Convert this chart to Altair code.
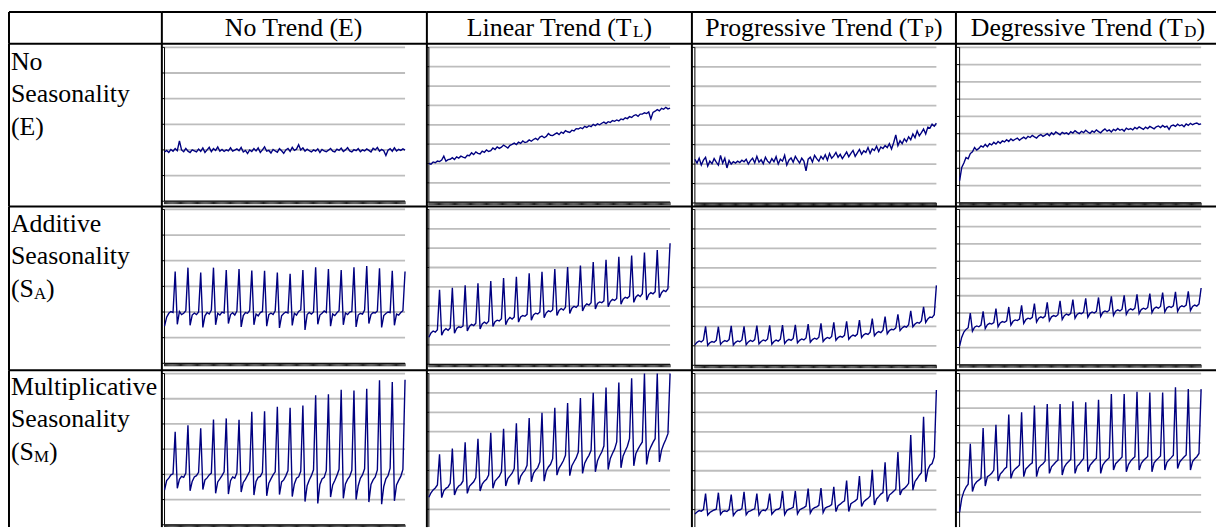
import altair as alt
import pandas as pd

FONT = "Liberation Serif"

# ---------------- text ----------------
COL_HEADERS = [("No Trend (E)", "", ""),
               ("Linear Trend (T", "L", ")"),
               ("Progressive Trend (T", "P", ")"),
               ("Degressive Trend (T", "D", ")")]
ROW_HEADERS = [(["No", "Seasonality"], "(E)", "", ""),
               (["Additive", "Seasonality"], "(S", "A", ")"),
               (["Multiplicative", "Seasonality"], "(S", "M", ")")]

# number of gridline intervals in each small chart
GRID_STEPS = [[6, 8, 8, 9], [6, 8, 8, 9], [6, 8, 8, 9]]

# ---------------- series (values in gridline units) ----------------
E_E = [1.92,1.98,1.90,2.02,1.95,2.05,1.97,2.35,2.00,1.93,2.06,1.95,1.90,2.00,1.96,1.92,2.03,1.94,2.08,1.90,
       2.00,2.10,1.93,2.05,1.98,2.12,1.95,2.02,1.94,2.00,1.96,2.08,1.95,1.99,2.04,1.97,2.10,1.92,1.98,1.86,
       2.00,1.94,2.05,1.96,2.08,1.90,2.00,2.12,1.95,1.98,1.88,2.02,1.96,1.91,2.05,1.97,1.87,2.00,2.06,1.94,
       2.10,1.98,2.03,2.20,2.00,2.08,1.95,2.03,1.97,1.92,2.00,1.95,2.04,1.90,2.02,1.96,1.93,1.99,2.06,1.95,
       1.92,2.03,1.98,2.07,1.94,2.00,2.09,1.96,1.92,2.01,1.97,2.05,1.93,2.00,1.96,2.04,1.98,1.92,2.06,2.00,
       2.10,1.95,2.02,1.97,1.78,1.99,2.05,1.95,2.08,1.96,2.02,1.98,2.04,1.99]
E_TL = [2.00,1.96,2.08,2.04,2.13,2.10,2.18,2.38,2.12,2.20,2.22,2.30,2.21,2.34,2.28,2.38,2.33,2.29,2.42,2.40,
        2.55,2.46,2.60,2.52,2.49,2.64,2.58,2.70,2.62,2.66,2.80,2.72,2.86,2.78,2.84,2.95,2.88,2.80,2.94,2.99,
        3.05,2.98,3.10,3.04,3.16,3.08,3.12,3.22,3.15,3.24,3.30,3.22,3.36,3.42,3.33,3.40,3.55,3.46,3.44,3.52,
        3.58,3.49,3.62,3.56,3.70,3.64,3.60,3.72,3.68,3.80,3.78,3.85,3.80,3.92,3.86,3.95,3.90,4.02,3.96,4.05,
        4.00,4.08,4.14,4.06,4.16,4.12,4.22,4.18,4.25,4.20,4.30,4.26,4.36,4.32,4.42,4.38,4.48,4.52,4.44,4.55,
        4.55,4.62,4.58,4.66,4.30,4.64,4.70,4.78,4.72,4.85,4.80,4.90,4.82,4.86]
E_TP = [2.25,2.05,2.30,1.95,2.20,2.35,1.90,2.15,2.02,2.28,2.10,1.95,2.45,2.05,2.30,1.80,2.18,2.00,2.12,2.05,
        2.15,2.08,2.20,2.12,2.25,2.00,2.18,2.30,2.06,2.40,2.10,2.22,2.02,2.35,2.15,2.05,2.28,2.12,2.38,2.00,
        2.25,2.15,2.45,1.95,2.20,2.32,2.10,2.40,2.22,2.05,2.30,2.15,1.65,2.25,2.35,2.10,2.45,2.28,2.15,2.40,
        2.25,2.48,2.20,2.55,2.30,2.42,2.60,2.35,2.50,2.28,2.45,2.62,2.38,2.55,2.70,2.40,2.58,2.75,2.50,2.68,
        2.60,2.85,2.55,2.78,2.70,2.92,2.65,2.88,2.80,2.95,2.85,3.05,2.78,3.10,3.50,2.95,3.20,3.05,3.30,3.15,
        3.40,3.25,3.55,3.35,3.70,3.45,3.62,3.80,3.55,3.90,3.85,4.05,3.95,4.10]
E_TD = [1.28,2.05,2.30,2.62,2.55,2.85,2.95,3.20,3.05,3.15,3.30,3.22,3.38,3.25,3.42,3.35,3.50,3.40,3.55,3.45,
        3.58,3.52,3.65,3.55,3.70,3.60,3.68,3.75,3.62,3.72,3.80,3.70,3.85,3.78,3.90,3.82,3.75,3.88,3.95,3.85,
        3.92,4.00,3.88,4.05,3.95,4.10,4.02,3.94,4.08,4.00,4.05,3.96,4.12,4.04,4.18,4.08,4.00,4.14,4.06,4.20,
        4.10,4.02,4.16,4.08,4.22,4.12,4.05,4.18,4.28,4.15,4.22,4.10,4.25,4.18,4.30,4.20,4.26,4.15,4.32,4.24,
        4.30,4.22,4.36,4.28,4.40,4.32,4.25,4.38,4.30,4.42,4.35,4.28,4.40,4.45,4.36,4.48,4.38,4.44,4.25,4.46,
        4.50,4.42,4.55,4.46,4.52,4.40,4.56,4.48,4.60,4.52,4.58,4.62,4.54,4.57]

SA_E = [1.45,1.80,1.95,2.02,1.98,3.58, 1.52,2.02,1.90,1.95,2.05,3.73, 1.48,1.88,1.96,1.90,2.00,3.54,
        1.40,1.85,1.98,1.92,2.08,3.73, 1.50,1.95,1.88,2.00,1.96,3.64, 1.55,1.90,1.97,1.88,2.04,3.68,
        1.42,1.86,1.98,1.95,2.06,3.62, 1.50,1.92,1.85,1.98,2.02,3.61, 1.45,1.90,1.96,1.90,2.05,3.54,
        1.38,1.85,1.94,2.00,1.96,3.49, 1.48,1.95,1.88,2.02,2.08,3.64, 1.30,1.90,1.98,1.92,2.00,3.74,
        1.52,1.88,1.95,2.04,1.98,3.68, 1.45,1.92,1.86,1.97,2.05,3.64, 1.50,1.96,1.90,2.00,2.02,3.74,
        1.42,1.88,1.95,1.92,2.08,3.79, 1.55,1.90,1.98,1.96,2.04,3.71, 1.40,1.86,1.94,2.00,1.98,3.61,
        1.48,1.92,1.88,1.98,2.05,3.58]
SA_TL = [1.40,1.62,1.72,1.66,1.78,3.85, 1.50,1.74,1.84,1.76,1.88,3.95, 1.60,1.85,1.94,1.90,1.98,4.08,
         1.72,1.96,2.06,2.00,2.12,4.18, 1.82,2.08,2.18,2.10,2.22,4.30, 1.95,2.20,2.28,2.24,2.36,4.45,
         2.05,2.30,2.42,2.34,2.45,4.52, 2.18,2.44,2.52,2.48,2.58,4.70, 2.28,2.55,2.64,2.60,2.70,4.78,
         2.40,2.66,2.76,2.72,2.82,4.92, 2.52,2.78,2.88,2.80,2.95,5.02, 2.62,2.90,3.00,2.94,3.05,5.10,
         2.75,3.00,3.12,3.06,3.18,5.28, 2.86,3.14,3.22,3.18,3.28,5.40, 2.98,3.24,3.35,3.30,3.40,5.55,
         3.10,3.36,3.46,3.42,3.52,5.62, 3.20,3.48,3.58,3.50,3.65,5.78, 3.32,3.60,3.70,3.64,3.75,5.90,
         3.44,3.70,3.82,3.76,3.90,6.25]
SA_TP = [1.05,1.18,1.25,1.20,1.30,2.00, 1.03,1.16,1.22,1.18,1.28,1.98, 1.07,1.20,1.27,1.22,1.32,2.02,
         1.04,1.18,1.25,1.21,1.30,2.00, 1.06,1.20,1.28,1.22,1.32,2.04, 1.10,1.22,1.30,1.25,1.35,2.05,
         1.08,1.22,1.29,1.24,1.34,2.06, 1.12,1.26,1.33,1.28,1.38,2.08, 1.15,1.28,1.35,1.30,1.40,2.12,
         1.18,1.32,1.39,1.34,1.44,2.15, 1.22,1.36,1.43,1.38,1.48,2.20, 1.28,1.42,1.49,1.44,1.54,2.26,
         1.34,1.48,1.55,1.50,1.60,2.32, 1.42,1.56,1.63,1.58,1.70,2.40, 1.52,1.66,1.73,1.68,1.80,2.50,
         1.62,1.78,1.85,1.82,1.92,2.62, 1.78,1.92,2.00,1.96,2.08,2.80, 1.98,2.12,2.20,2.16,2.28,3.00,
         2.20,2.38,2.48,2.45,2.60,4.10]
SA_TD = [1.10,1.60,1.90,2.05,2.15,3.00, 1.95,2.18,2.25,2.20,2.30,3.10, 2.10,2.32,2.40,2.36,2.45,3.25,
         2.20,2.42,2.50,2.46,2.55,3.35, 2.30,2.52,2.60,2.56,2.65,3.45, 2.40,2.62,2.70,2.66,2.75,3.55,
         2.48,2.70,2.78,2.72,2.82,3.62, 2.55,2.78,2.85,2.80,2.90,3.70, 2.62,2.85,2.94,2.88,2.98,3.78,
         2.70,2.92,3.00,2.96,3.05,3.85, 2.75,2.98,3.06,3.00,3.10,3.90, 2.80,3.04,3.12,3.06,3.16,3.96,
         2.86,3.10,3.18,3.12,3.22,4.02, 2.92,3.16,3.24,3.18,3.28,4.08, 2.96,3.20,3.28,3.22,3.32,4.12,
         3.02,3.26,3.34,3.28,3.38,4.18, 3.06,3.30,3.38,3.32,3.42,4.22, 3.10,3.34,3.42,3.36,3.46,4.26,
         3.14,3.38,3.46,3.40,3.52,4.45]

SM_E = [1.38,1.75,1.85,1.98,2.02,3.69, 1.45,1.80,1.92,1.88,2.05,3.95, 1.35,1.72,1.90,1.95,2.08,3.83,
        1.40,1.78,1.86,1.98,2.05,4.18, 1.25,1.70,1.82,1.95,2.10,4.22, 1.22,1.75,1.90,1.85,2.06,4.17,
        1.30,1.68,1.80,1.96,2.12,4.48, 1.18,1.72,1.88,1.92,2.08,4.50, 1.15,1.65,1.82,1.98,2.10,4.68,
        1.20,1.70,1.78,1.94,2.15,4.64, 1.12,1.62,1.85,1.90,2.12,4.73, 0.92,1.55,1.78,1.95,2.18,5.14,
        0.85,1.60,1.82,1.88,2.15,5.18, 1.10,1.58,1.76,1.96,2.20,5.36, 1.05,1.62,1.80,1.92,2.16,5.33,
        1.00,1.55,1.84,1.98,2.22,5.40, 0.90,1.60,1.78,1.90,2.18,5.73, 0.82,1.52,1.82,1.95,2.25,5.66,
        0.95,1.58,1.76,1.92,2.20,5.75]
SM_TL = [1.62,1.85,2.00,2.10,2.25,3.84, 1.60,1.95,2.08,2.15,2.34,4.13, 1.74,2.05,2.20,2.28,2.46,4.45,
         1.82,2.18,2.30,2.42,2.63,4.64, 1.94,2.30,2.45,2.55,2.76,4.95, 2.08,2.45,2.58,2.70,2.93,5.15,
         2.20,2.58,2.72,2.86,3.10,5.44, 2.28,2.70,2.88,3.00,3.27,5.70, 2.42,2.85,3.02,3.15,3.44,5.97,
         2.45,2.98,3.18,3.32,3.61,6.23, 2.76,3.12,3.30,3.50,3.78,6.48, 2.73,3.25,3.45,3.65,3.95,6.74,
         2.85,3.38,3.60,3.78,4.04,7.01, 2.93,3.50,3.75,3.95,4.26,7.28, 3.05,3.62,3.88,4.10,4.47,7.54,
         3.14,3.75,4.00,4.25,4.64,7.76, 3.24,3.88,4.10,4.30,4.47,8.00, 3.31,3.95,4.22,4.45,4.64,8.00,
         3.44,4.05,4.35,4.60,4.90,8.00]
SM_TP = [0.78,0.88,0.95,0.92,1.00,1.82, 0.72,0.85,0.92,0.98,1.02,1.87, 0.75,0.90,0.94,0.90,1.00,1.77,
         0.70,0.86,0.96,0.98,1.05,1.91, 0.74,0.90,0.94,1.00,1.04,1.82, 0.72,0.92,0.98,0.95,1.08,1.82,
         0.76,0.90,1.00,1.02,1.10,1.96, 0.74,0.95,1.02,1.06,1.12,1.96, 0.78,0.98,1.05,1.10,1.18,2.08,
         0.82,1.02,1.10,1.14,1.22,2.11, 0.85,1.08,1.14,1.18,1.26,2.17, 0.90,1.20,1.28,1.38,1.45,2.50,
         0.90,1.30,1.38,1.45,1.55,2.73, 1.16,1.40,1.50,1.58,1.70,3.05, 1.24,1.55,1.67,1.80,1.88,3.44,
         1.41,1.75,1.84,1.95,2.05,3.96, 1.75,2.02,2.09,2.20,2.35,4.84, 2.00,2.45,2.60,2.77,2.90,5.78,
         2.43,3.05,3.28,3.37,3.71,7.15]
SM_TD = [1.00,1.80,2.20,2.45,2.62,4.95, 2.19,2.60,2.76,2.85,2.95,5.85, 2.51,3.05,3.13,3.25,3.43,6.04,
         2.80,3.20,3.33,3.50,3.60,6.63, 2.95,3.35,3.50,3.60,3.72,6.77, 3.05,3.50,3.62,3.75,3.85,7.15,
         3.05,3.55,3.70,3.80,3.95,7.24, 3.24,3.62,3.75,3.90,4.00,7.24, 3.15,3.60,3.80,3.92,4.05,7.40,
         3.24,3.65,3.78,3.95,4.10,7.34, 3.33,3.70,3.85,4.00,4.12,7.49, 3.24,3.72,3.90,4.02,4.15,7.82,
         3.43,3.80,3.92,4.05,4.19,7.82, 3.33,3.75,3.95,4.08,4.20,7.95, 3.43,3.82,3.98,4.10,4.22,7.91,
         3.33,3.85,4.00,4.12,4.25,7.91, 3.43,3.88,4.02,4.15,4.29,8.20, 3.52,3.90,4.05,4.18,4.30,8.10,
         3.43,3.92,4.08,4.20,4.39,8.10]

SERIES = [[E_E, E_TL, E_TP, E_TD],
          [SA_E, SA_TL, SA_TP, SA_TD],
          [SM_E, SM_TL, SM_TP, SM_TD]]

# ---------------- layout (pixels) ----------------
COL_W = [154, 267, 267, 266, 262]
ROW_H = [32, 164, 165, 158]
PLOT_X = [(2.7, 245.0), (2.0, 245.0), (3.0, 246.3), (3.7, 247.0)]
PLOT_Y = [[(3.7, 158.7), (3.7, 159.7), (3.7, 160.5), (3.7, 160.3)],
          [(3.0, 158.0), (3.0, 159.0), (3.0, 160.0), (3.0, 159.5)],
          [(3.3, 155.7), (3.3, 159.6), (3.3, 160.0), (3.3, 160.5)]]
HEADER_CENTER = [0, 133.5, 133.5, 133.0, 133.0]
HEADER_BASE = 24.0
LABEL_BASES = [[26.3, 59.0, 92.5], [25.7, 58.3, 91.3], [25.0, 57.3, 90.7]]
BIG, SMALL = 26, 17
LINE_COLOR = "#000080"
GRID_COLOR = "#bdbdbd"

# Times-compatible advance widths (per 1000 em) for placing subscripts
ADV = {" ": 250, "(": 333, ")": 333, "A": 722, "D": 722, "E": 611, "L": 611, "M": 889,
       "N": 722, "P": 556, "S": 556, "T": 611, "a": 444, "d": 500, "e": 444, "g": 500,
       "i": 278, "n": 500, "o": 500, "r": 333, "s": 389, "v": 500}


def text_w(s, size):
    return sum(ADV.get(ch, 500) for ch in s) * size / 1000.0


ONE = pd.DataFrame({"k": [0]})


def borders(w, h):
    top = alt.Chart(ONE).mark_rule(color="black", strokeWidth=2).encode(
        x=alt.value(0), x2=alt.value(w), y=alt.value(0))
    left = alt.Chart(ONE).mark_rule(color="black", strokeWidth=2).encode(
        x=alt.value(0), y=alt.value(0), y2=alt.value(h))
    return [top, left]


def txt(s, size, x, y):
    return alt.Chart(pd.DataFrame({"t": [s]})).mark_text(
        font=FONT, fontSize=size, align="left", baseline="alphabetic", color="black"
    ).encode(text="t:N", x=alt.value(x), y=alt.value(y))


def header_cell(c):
    W, H = COL_W[c], ROW_H[0]
    layers = borders(W, H)
    if c > 0:
        main, sub, close = COL_HEADERS[c - 1]
        total = text_w(main, BIG) + text_w(sub, SMALL) + text_w(close, BIG)
        x0 = HEADER_CENTER[c] - total / 2
        layers.append(txt(main, BIG, x0, HEADER_BASE))
        if sub:
            xs = x0 + text_w(main, BIG)
            layers.append(txt(sub, SMALL, xs, HEADER_BASE + 1.5))
            layers.append(txt(close, BIG, xs + text_w(sub, SMALL), HEADER_BASE))
    return alt.layer(*layers).properties(width=W, height=H)


def label_cell(r):
    W, H = COL_W[0], ROW_H[r + 1]
    lines, last, sub, close = ROW_HEADERS[r]
    b = LABEL_BASES[r]
    layers = borders(W, H)
    for i, s in enumerate(lines):
        layers.append(txt(s, BIG, 2, b[i]))
    layers.append(txt(last, BIG, 2, b[2]))
    if sub:
        xs = 2 + text_w(last, BIG)
        layers.append(txt(sub, SMALL, xs, b[2] + 1.5))
        layers.append(txt(close, BIG, xs + text_w(sub, SMALL), b[2]))
    return alt.layer(*layers).properties(width=W, height=H)


def data_cell(r, c):
    vals = SERIES[r][c]
    n = len(vals)
    last = n - 1
    W, H = COL_W[c + 1], ROW_H[r + 1]
    L, R = PLOT_X[c]
    T, B = PLOT_Y[r][c]
    N = GRID_STEPS[r][c]
    xper = last / (R - L)
    yper = N / (B - T)
    xs = alt.Scale(domain=[-L * xper, (W - L) * xper], nice=False, zero=False)
    ys = alt.Scale(domain=[(B - H) * yper, B * yper], nice=False, zero=False)
    X = alt.X("x:Q", scale=xs, axis=None)
    Y = alt.Y("y:Q", scale=ys, axis=None)

    grid = alt.Chart(pd.DataFrame({"y": list(range(1, N + 1)), "x": 0, "x2": last})).mark_rule(
        color=GRID_COLOR, strokeWidth=1.8, clip=True).encode(x=X, x2="x2:Q", y=Y)
    yaxis = alt.Chart(pd.DataFrame({"x": [0], "y": [0], "y2": [N]})).mark_rule(
        color="black", strokeWidth=1, clip=True).encode(x=X, y=Y, y2="y2:Q")
    yticks = alt.Chart(pd.DataFrame({"y": list(range(0, N + 1)), "x": -3 * xper, "x2": 0})).mark_rule(
        color="black", strokeWidth=1, clip=True).encode(x=X, x2="x2:Q", y=Y)
    xaxis = alt.Chart(pd.DataFrame({"x": [0], "x2": [last], "y": [0]})).mark_rule(
        color="black", strokeWidth=1.2, clip=True).encode(x=X, x2="x2:Q", y=Y)
    xticks = alt.Chart(pd.DataFrame({"x": [i * 0.5 for i in range(2 * last + 1)], "y": 0,
                                     "y2": -3.0 * yper})).mark_rule(
        color="#202020", strokeWidth=1, clip=True).encode(x=X, y=Y, y2="y2:Q")
    line = alt.Chart(pd.DataFrame({"x": list(range(n)), "y": vals})).mark_line(
        color=LINE_COLOR, strokeWidth=1.4, clip=True).encode(x=X, y=Y)
    return alt.layer(grid, yaxis, yticks, xaxis, xticks, line, *borders(W, H)).properties(width=W, height=H)


cells = [header_cell(c) for c in range(5)]
for r in range(3):
    cells.append(label_cell(r))
    for c in range(4):
        cells.append(data_cell(r, c))

chart = alt.concat(*cells, columns=5, spacing=0, bounds="flush").properties(
    padding={"left": 0, "top": 1, "right": 0, "bottom": 0}
).configure_view(stroke=None)

chart.save("out.html", embed_options={"renderer": "svg", "actions": False})
